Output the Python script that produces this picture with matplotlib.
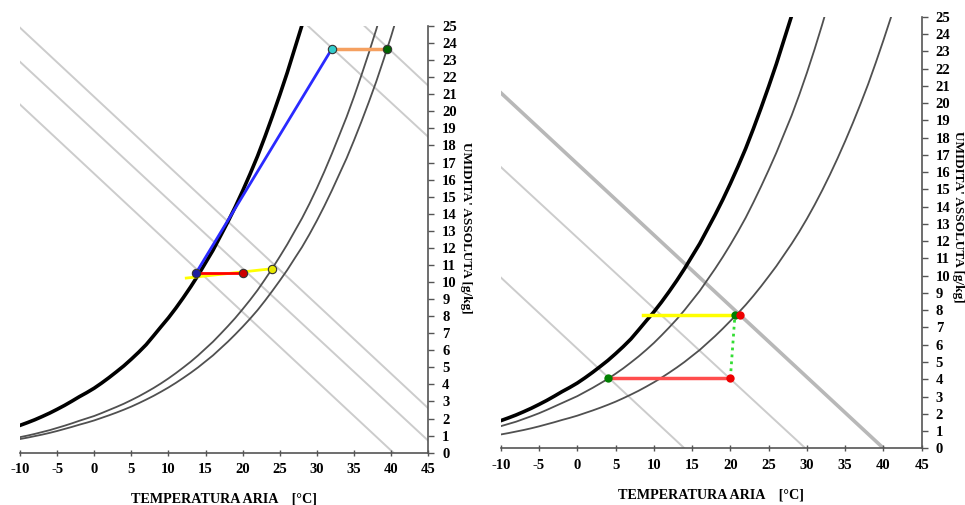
import matplotlib
matplotlib.use("Agg")
import matplotlib.pyplot as plt

# ---------------- data ----------------
temp = [-10, -9, -8, -7, -6, -5, -4, -3, -2, -1, 0, 1, 2, 3, 4, 5, 6, 7, 8, 9, 10,
        11, 12, 13, 14, 15, 16, 17, 18, 19, 20, 21, 22, 23, 24, 25, 26, 27, 28, 29, 30,
        31, 32, 33, 34, 35, 36, 37, 38, 39, 40, 41, 42]
# saturation curve (100 %)  [g/kg]
sat = [1.60, 1.76, 1.93, 2.12, 2.32, 2.54, 2.77, 3.02, 3.28, 3.52, 3.78, 4.08, 4.40, 4.74,
       5.09, 5.48, 5.89, 6.33, 6.85, 7.38, 7.90, 8.47, 9.08, 9.72, 10.40, 11.13, 11.86, 12.69,
       13.52, 14.40, 15.34, 16.33, 17.37, 18.51, 19.71, 20.96, 22.26, 23.66, 25.06, 26.6]
# left chart: two relative humidity curves
rh_a_left = [0.91, 1.00, 1.10, 1.21, 1.32, 1.45, 1.58, 1.72, 1.87, 2.01, 2.15, 2.32, 2.50,
             2.68, 2.87, 3.08, 3.30, 3.54, 3.79, 4.06, 4.35, 4.66, 4.99, 5.33, 5.70, 6.10,
             6.50, 6.95, 7.41, 7.89, 8.41, 8.95, 9.52, 10.15, 10.80, 11.49, 12.20, 12.97,
             13.74, 14.59, 15.50, 16.47, 17.50, 18.58, 19.67, 20.86, 22.12, 23.43, 24.80, 26.28]
rh_b_left = [0.80, 0.88, 0.97, 1.06, 1.16, 1.27, 1.39, 1.51, 1.64, 1.76, 1.89, 2.04, 2.19,
             2.35, 2.52, 2.70, 2.90, 3.11, 3.33, 3.57, 3.82, 4.09, 4.38, 4.68, 5.00, 5.35,
             5.70, 6.10, 6.50, 6.93, 7.38, 7.85, 8.35, 8.90, 9.48, 10.08, 10.70, 11.38, 12.05,
             12.80, 13.60, 14.45, 15.35, 16.30, 17.25, 18.30, 19.40, 20.55, 21.75, 23.05,
             24.40, 25.85]
# right chart: two relative humidity curves
rh_a_right = [1.28, 1.41, 1.54, 1.70, 1.86, 2.03, 2.22, 2.42, 2.62, 2.82, 3.02, 3.26, 3.50,
              3.76, 4.02, 4.32, 4.63, 4.97, 5.32, 5.70, 6.10, 6.54, 7.00, 7.48, 8.00, 8.56,
              9.12, 9.76, 10.40, 11.08, 11.80, 12.56, 13.36, 14.24, 15.16, 16.12, 17.12,
              18.20, 19.28, 20.48, 21.76, 23.12, 24.56, 26.08]
rh_b_right = [0.80, 0.88, 0.97, 1.06, 1.16, 1.27, 1.39, 1.51, 1.64, 1.76, 1.89, 2.04, 2.19,
              2.35, 2.52, 2.70, 2.90, 3.11, 3.33, 3.57, 3.82, 4.09, 4.38, 4.68, 5.00, 5.35,
              5.70, 6.10, 6.50, 6.93, 7.38, 7.83, 8.31, 8.83, 9.38, 9.96, 10.55, 11.20, 11.85,
              12.55, 13.30, 14.10, 14.95, 15.85, 16.80, 17.80, 18.85, 19.95, 21.10, 22.35,
              23.65, 25.00, 26.40]

# enthalpy lines: start / end (temperature, humidity)
left_h_x0 = [-10, -10, -10, 28.8, 36.4]
left_h_y0 = [24.9, 22.9, 20.4, 25.0, 25.0]
left_h_x1 = [45, 45, 40.3, 45, 45]
left_h_y1 = [2.6, 0.7, 0.0, 18.5, 21.5]

right_h_x0 = [-10, -10, -10]
right_h_y0 = [20.6, 16.3, 9.9]
right_h_x1 = [40.0, 29.8, 14.0]
right_h_y1 = [0.0, 0.0, 0.0]

# left chart process points
left_blue = (13.75, 10.55)
left_red = (20.0, 10.55)
left_yellow = (24.0, 10.78)
left_yellow_start = (12.4, 10.23)
left_cyan = (32.0, 23.65)
left_green = (39.5, 23.65)

# right chart process points
right_green1 = (4.0, 4.07)
right_red1 = (20.0, 4.07)
right_green2 = (20.6, 7.75)
right_red2 = (21.2, 7.75)
right_yellow_start = (8.6, 7.75)

xticks = list(range(-10, 50, 5))
yticks = list(range(0, 26, 1))
xlabel = "TEMPERATURA ARIA    [°C]"
ylabel = "UMIDITA' ASSOLUTA [g/kg]"

# ---------------- figure ----------------
fig = plt.figure(figsize=(9.65, 5.05), dpi=100)
ax1 = fig.add_axes([0.0207, 0.1036, 0.4231, 0.845])
ax2 = fig.add_axes([0.5189, 0.1123, 0.4363, 0.8545])

FONT = dict(family="Liberation Serif", weight="bold")
AXCOL = "#555555"


def style_axis(ax, ylab_pos):
    ax.set_xlim(-10, 45)
    ax.set_ylim(0, 25)
    for s in ("top", "left"):
        ax.spines[s].set_visible(False)
    for s in ("bottom", "right"):
        ax.spines[s].set_color(AXCOL)
        ax.spines[s].set_linewidth(1.2)
    ax.yaxis.tick_right()
    ax.set_xticks(xticks)
    ax.set_yticks(yticks)
    ax.set_xticklabels([str(v) for v in xticks], fontdict=dict(size=10.5, **FONT))
    ax.set_yticklabels([str(v) for v in yticks], fontdict=dict(size=10.5, **FONT))
    ax.tick_params(axis="x", direction="inout", length=5, width=1, color=AXCOL, pad=5)
    ax.tick_params(axis="y", direction="out", length=4, width=1, color=AXCOL, pad=6)
    ax.set_xlabel(xlabel, fontdict=dict(size=10.2, **FONT), labelpad=12)
    ax.text(ylab_pos[0], ylab_pos[1], ylabel, transform=ax.transAxes, rotation=-90,
            ha="center", va="center", size=9.5, **FONT)


def curve(ax, ys, **kw):
    ax.plot(temp[:len(ys)], ys, **kw)


# ---- left chart ----
for x0, y0, x1, y1 in zip(left_h_x0, left_h_y0, left_h_x1, left_h_y1):
    ax1.plot([x0, x1], [y0, y1], color="#cccccc", lw=1.4, zorder=1)
curve(ax1, rh_a_left, color="#505050", lw=1.3, zorder=2)
curve(ax1, rh_b_left, color="#505050", lw=1.3, zorder=2)
curve(ax1, sat, color="black", lw=2.6, zorder=3)

ax1.plot([left_yellow_start[0], left_yellow[0]], [left_yellow_start[1], left_yellow[1]],
         color="#ffff00", lw=2, zorder=4)
ax1.plot([left_blue[0], left_red[0]], [left_blue[1], left_red[1]], color="#ff0000", lw=2, zorder=5)
ax1.plot([left_blue[0], left_cyan[0]], [left_blue[1], left_cyan[1]], color="#2a2aff", lw=2, zorder=5)
ax1.plot([left_cyan[0], left_green[0]], [left_cyan[1], left_green[1]], color="#f5a060", lw=2.5, zorder=5)

mk = dict(marker="o", ms=6, mec="#333333", mew=0.8, zorder=6, ls="none")
ax1.plot(*left_blue, mfc="#1c1ca0", **mk)
ax1.plot(*left_red, mfc="#cc0000", **mk)
ax1.plot(*left_yellow, mfc="#e8e800", **mk)
ax1.plot(*left_cyan, mfc="#33cccc", **mk)
ax1.plot(*left_green, mfc="#006400", **mk)
style_axis(ax1, (1.092, 0.527))

# ---- right chart ----
lws = [2.6, 1.4, 1.4]
cols = ["#b8b8b8", "#cccccc", "#cccccc"]
for (x0, y0, x1, y1), lw, c in zip(zip(right_h_x0, right_h_y0, right_h_x1, right_h_y1), lws, cols):
    ax2.plot([x0, x1], [y0, y1], color=c, lw=lw, zorder=1)
curve(ax2, rh_a_right, color="#505050", lw=1.3, zorder=2)
curve(ax2, rh_b_right, color="#505050", lw=1.3, zorder=2)
curve(ax2, sat, color="black", lw=2.6, zorder=3)

ax2.plot([right_yellow_start[0], right_green2[0]], [right_yellow_start[1], right_green2[1]],
         color="#ffff00", lw=2.5, zorder=4)
ax2.plot([right_green1[0], right_red1[0]], [right_green1[1], right_red1[1]],
         color="#ff4d4d", lw=2.5, zorder=4)
ax2.plot([right_red1[0], right_green2[0]], [right_red1[1], right_green2[1]],
         color="#33dd33", lw=2, ls=(0, (1, 1.5)), zorder=4)
mk2 = dict(marker="o", ms=6, mec="none", zorder=6, ls="none")
ax2.plot(*right_green1, mfc="#008000", **mk2)
ax2.plot(*right_red1, mfc="#ee0000", **mk2)
ax2.plot(*right_green2, mfc="#008000", **mk2)
ax2.plot(*right_red2, mfc="#ee0000", **mk2)
style_axis(ax2, (1.086, 0.536))

fig.savefig("out.png", dpi=100)
